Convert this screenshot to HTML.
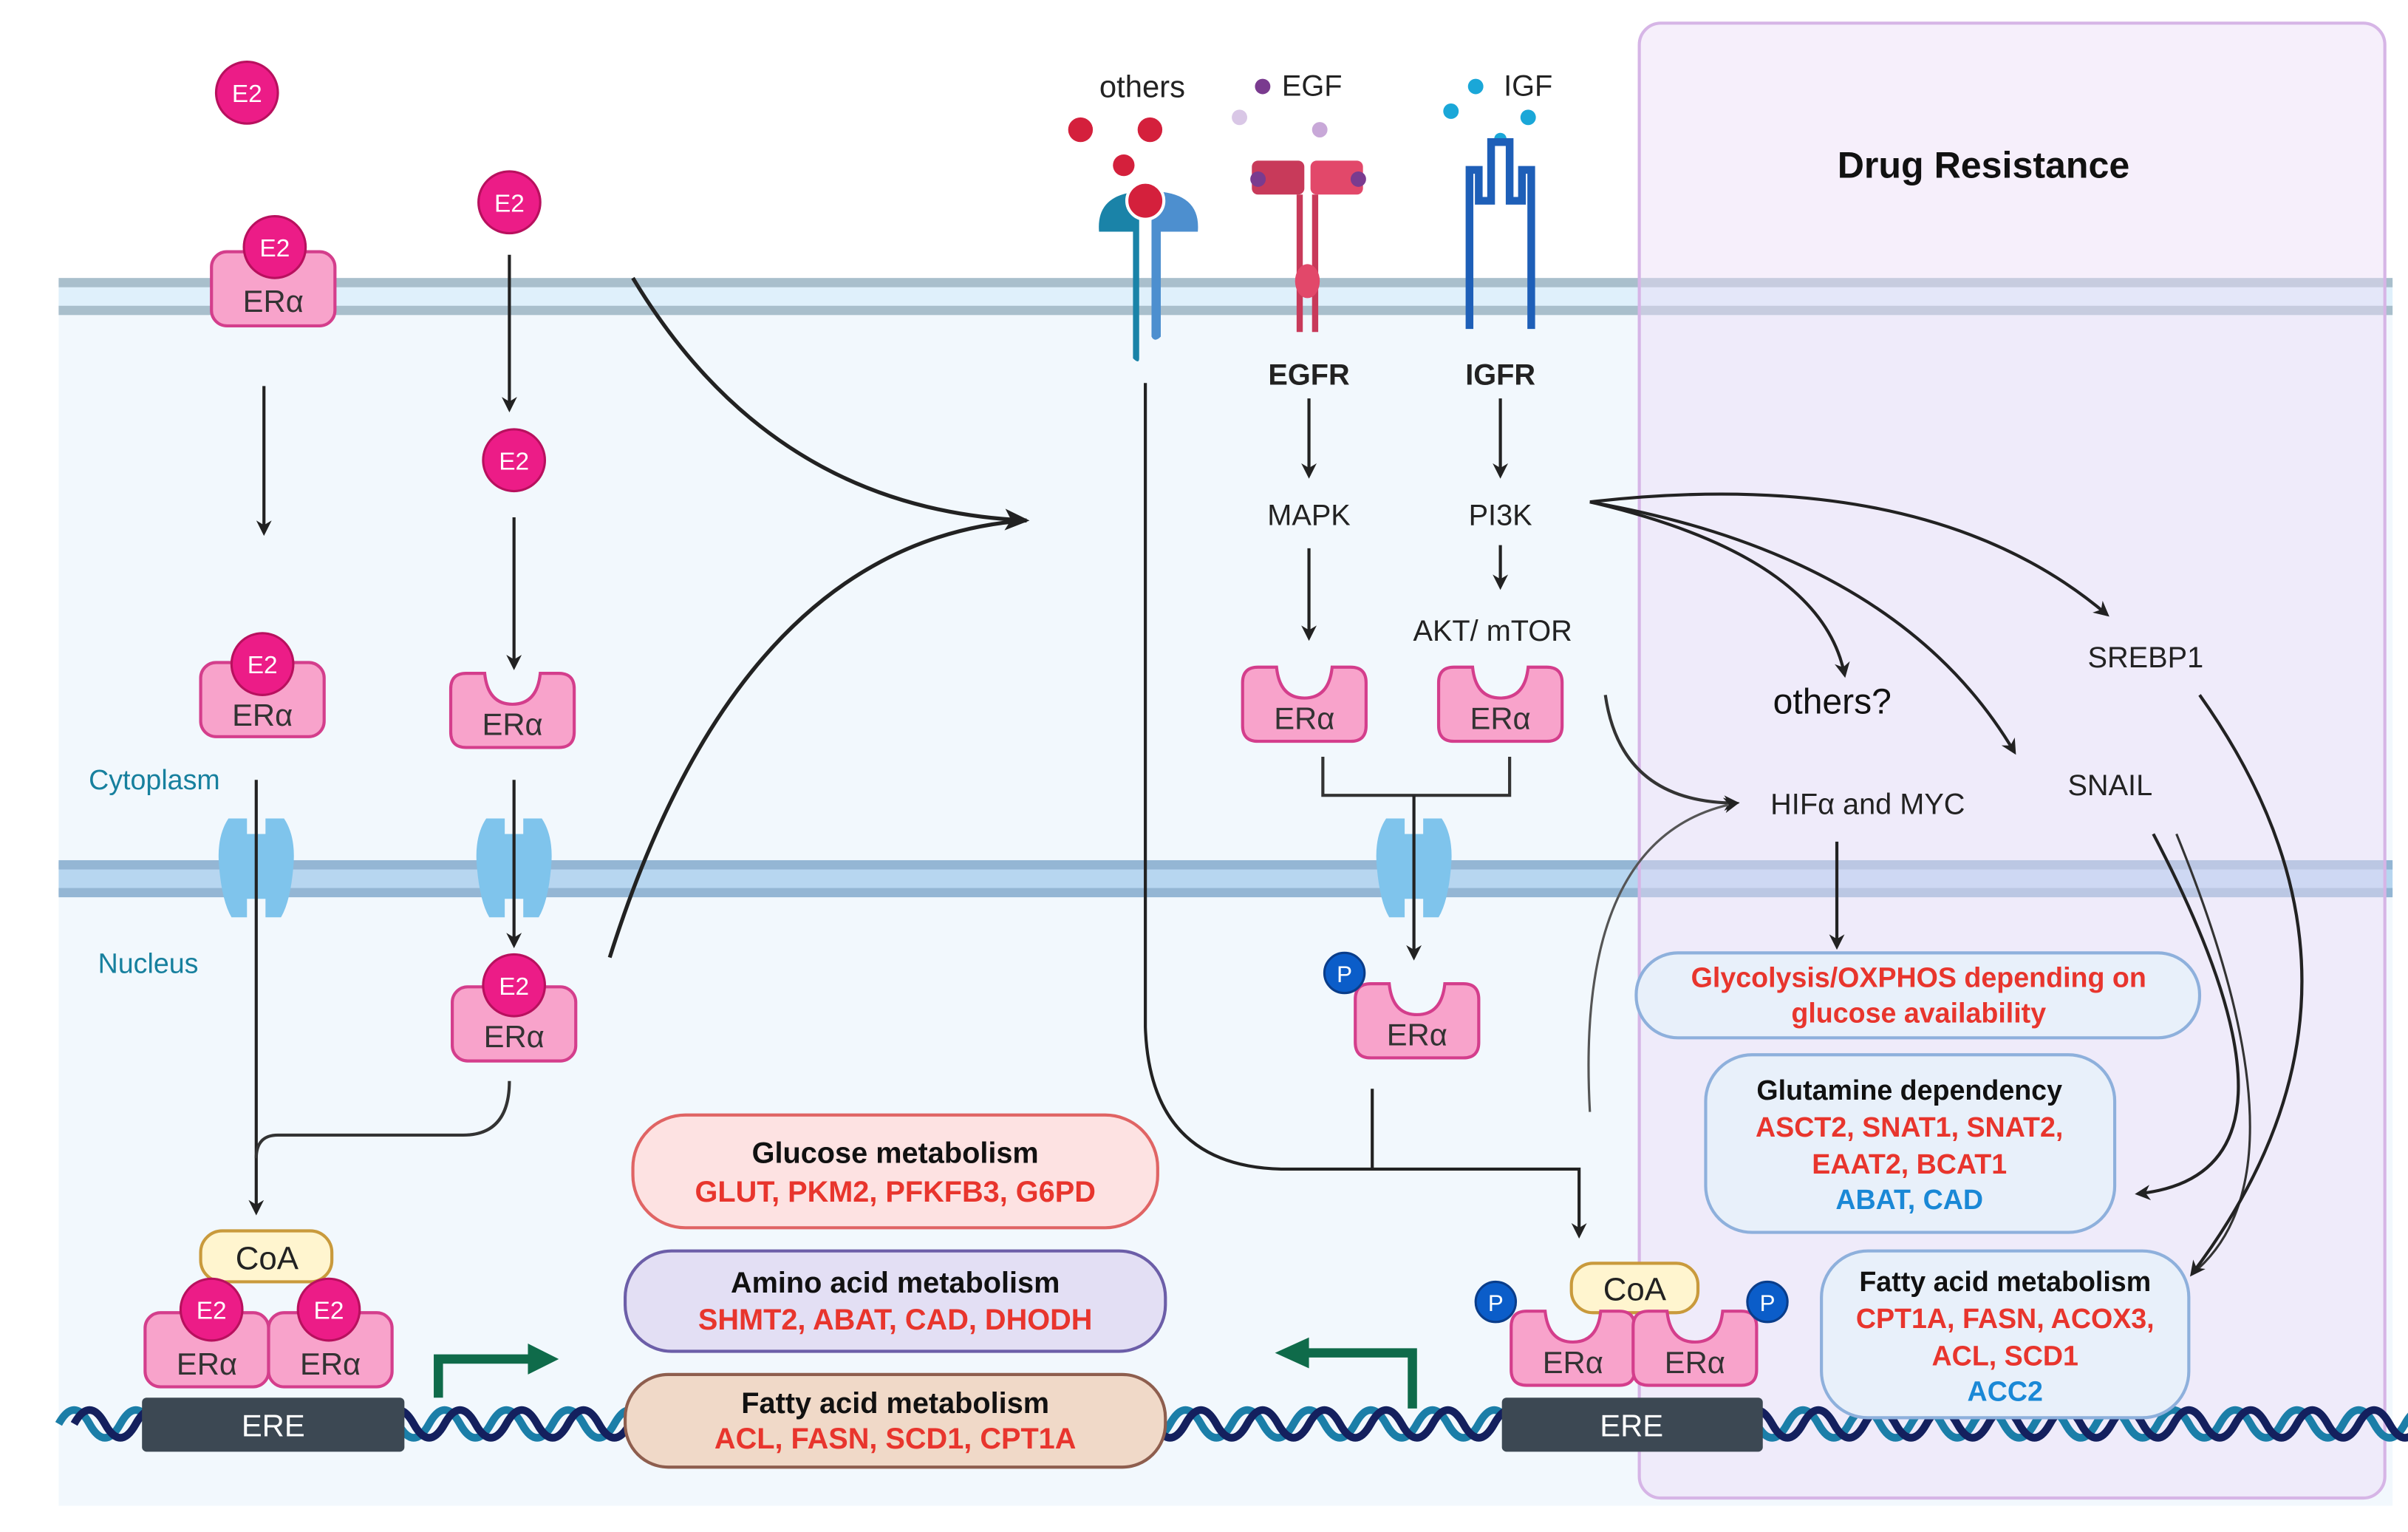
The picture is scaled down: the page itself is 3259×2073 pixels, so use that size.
<!DOCTYPE html>
<html><head><meta charset="utf-8"><style>
html,body{margin:0;padding:0;background:#fff;}
svg{display:block;}
text{font-family:"Liberation Sans",sans-serif;}
</style></head><body>
<svg width="3259" height="2073" viewBox="0 0 1560 992" preserveAspectRatio="none" xmlns="http://www.w3.org/2000/svg">
<defs>
<marker id="ah" markerWidth="10" markerHeight="10" refX="8" refY="5" orient="auto" markerUnits="userSpaceOnUse"><path d="M0,0 L10,5 L0,10 L3,5 Z" fill="#222"/></marker>
<marker id="ahL" markerWidth="16" markerHeight="14" refX="14" refY="7" orient="auto" markerUnits="userSpaceOnUse"><path d="M0,0 L16,7 L0,14 L4,7 Z" fill="#222"/></marker>
<g id="e2"><circle r="20" fill="#ec1c87" stroke="#b8105e" stroke-width="1.5"/><text y="6" text-anchor="middle" font-size="16" fill="#fff">E2</text></g>
<g id="eraF"><rect x="-40" y="-24" width="80" height="48" rx="10" fill="#f8a3cb" stroke="#d43e8c" stroke-width="2"/></g>
<g id="eraN"><path d="M-40,-14 Q-40,-24 -30,-24 L-18,-24 Q-16,-4 0,-4 Q16,-4 18,-24 L30,-24 Q40,-24 40,-14 L40,14 Q40,24 30,24 L-30,24 Q-40,24 -40,14 Z" fill="#f8a3cb" stroke="#d43e8c" stroke-width="2"/></g>
<g id="pore"><path d="M-18,-32 Q-26,-20 -24,0 Q-22,22 -16,32 L-6,32 L-6,20 L6,20 L6,32 L16,32 Q22,22 24,0 Q26,-20 18,-32 L6,-32 L6,-22 L-6,-22 L-6,-32 Z" fill="#7fc4ec"/></g>
<g id="pc"><circle r="13" fill="#0b5dc9" stroke="#0a3d8a" stroke-width="1.5"/><text y="6" text-anchor="middle" font-size="15" fill="#fff">P</text></g>
</defs>

<!-- cell background -->
<rect x="38" y="190" width="1512" height="785" fill="#f2f8fd"/>
<!-- plasma membrane -->
<rect x="38" y="181" width="1512" height="22" fill="#dff0fb"/>
<rect x="38" y="180" width="1512" height="6" fill="#a9bfcc"/>
<rect x="38" y="198" width="1512" height="6" fill="#a9bfcc"/>
<!-- nuclear membrane -->
<rect x="38" y="558" width="1512" height="22" fill="#b7d6f0"/>
<rect x="38" y="557" width="1512" height="6" fill="#94b6d4"/>
<rect x="38" y="575" width="1512" height="6" fill="#94b6d4"/>

<!-- drug resistance panel -->
<rect x="1062" y="15" width="483" height="955" rx="14" fill="#ecdcf7" fill-opacity="0.45" stroke="#d6b5e6" stroke-width="2"/>
<text x="1285" y="115" text-anchor="middle" font-size="24" font-weight="bold" fill="#111">Drug Resistance</text>

<!-- DNA -->
<path d="M38,922 q10,-18 20,0 t20,0 t20,0 t20,0 t20,0 t20,0 t20,0 t20,0 t20,0 t20,0 t20,0 t20,0 t20,0 t20,0 t20,0 t20,0 t20,0 t20,0 t20,0 t20,0 t20,0 t20,0 t20,0 t20,0 t20,0 t20,0 t20,0 t20,0 t20,0 t20,0 t20,0 t20,0 t20,0 t20,0 t20,0 t20,0 t20,0 t20,0 t20,0 t20,0 t20,0 t20,0 t20,0 t20,0 t20,0 t20,0 t20,0 t20,0 t20,0 t20,0 t20,0 t20,0 t20,0 t20,0 t20,0 t20,0 t20,0 t20,0 t20,0 t20,0 t20,0 t20,0 t20,0 t20,0 t20,0 t20,0 t20,0 t20,0 t20,0 t20,0 t20,0 t20,0 t20,0 t20,0 t20,0 t20,0 t20,0 t20,0" fill="none" stroke="#1b7ea8" stroke-width="5"/>
<path d="M48,922 q10,-18 20,0 t20,0 t20,0 t20,0 t20,0 t20,0 t20,0 t20,0 t20,0 t20,0 t20,0 t20,0 t20,0 t20,0 t20,0 t20,0 t20,0 t20,0 t20,0 t20,0 t20,0 t20,0 t20,0 t20,0 t20,0 t20,0 t20,0 t20,0 t20,0 t20,0 t20,0 t20,0 t20,0 t20,0 t20,0 t20,0 t20,0 t20,0 t20,0 t20,0 t20,0 t20,0 t20,0 t20,0 t20,0 t20,0 t20,0 t20,0 t20,0 t20,0 t20,0 t20,0 t20,0 t20,0 t20,0 t20,0 t20,0 t20,0 t20,0 t20,0 t20,0 t20,0 t20,0 t20,0 t20,0 t20,0 t20,0 t20,0 t20,0 t20,0 t20,0 t20,0 t20,0 t20,0 t20,0 t20,0" fill="none" stroke="#14205e" stroke-width="5"/>

<!-- labels cytoplasm/nucleus -->
<text x="100" y="511" text-anchor="middle" font-size="18" fill="#17809e">Cytoplasm</text>
<text x="96" y="630" text-anchor="middle" font-size="18" fill="#17809e">Nucleus</text>

<!-- pores -->
<use href="#pore" x="166" y="562"/>
<use href="#pore" x="333" y="562"/>
<use href="#pore" x="916" y="562"/>

<!-- left column -->
<use href="#e2" x="160" y="60"/>
<use href="#eraF" x="177" y="187"/>
<use href="#e2" x="178" y="160"/>
<text x="177" y="202" text-anchor="middle" font-size="20" fill="#333">ERα</text>
<line x1="171" y1="250" x2="171" y2="345" stroke="#222" stroke-width="2" marker-end="url(#ah)"/>
<use href="#eraF" x="170" y="453"/>
<use href="#e2" x="170" y="430"/>
<text x="170" y="470" text-anchor="middle" font-size="20" fill="#333">ERα</text>
<path d="M166,505 L166,785" stroke="#222" stroke-width="2" fill="none" marker-end="url(#ah)"/>
<path d="M330,700 Q330,735 300,735 L180,735 Q166,735 166,750" stroke="#333" stroke-width="2" fill="none"/>

<!-- column 2 -->
<use href="#e2" x="330" y="131"/>
<line x1="330" y1="165" x2="330" y2="265" stroke="#222" stroke-width="2" marker-end="url(#ah)"/>
<use href="#e2" x="333" y="298"/>
<line x1="333" y1="335" x2="333" y2="432" stroke="#222" stroke-width="2" marker-end="url(#ah)"/>
<use href="#eraN" x="332" y="460"/>
<text x="332" y="476" text-anchor="middle" font-size="20" fill="#333">ERα</text>
<line x1="333" y1="505" x2="333" y2="612" stroke="#222" stroke-width="2" marker-end="url(#ah)"/>
<use href="#eraF" x="333" y="663"/>
<use href="#e2" x="333" y="638"/>
<text x="333" y="678" text-anchor="middle" font-size="20" fill="#333">ERα</text>

<!-- converging curves -->
<path d="M410,180 Q500,330 665,337" stroke="#222" stroke-width="2.5" fill="none" marker-end="url(#ahL)"/>
<path d="M395,620 Q480,350 665,337" stroke="#222" stroke-width="2.5" fill="none"/>

<!-- left bottom complex -->
<rect x="130" y="797" width="85" height="33" rx="14" fill="#fff5cf" stroke="#c99a3c" stroke-width="2"/>
<text x="173" y="822" text-anchor="middle" font-size="21" fill="#222">CoA</text>
<use href="#eraF" x="134" y="874"/>
<use href="#eraF" x="214" y="874"/>
<use href="#e2" x="137" y="848"/>
<use href="#e2" x="213" y="848"/>
<text x="134" y="890" text-anchor="middle" font-size="20" fill="#333">ERα</text>
<text x="214" y="890" text-anchor="middle" font-size="20" fill="#333">ERα</text>
<rect x="92" y="905" width="170" height="35" rx="3" fill="#3c4853"/>
<text x="177" y="930" text-anchor="middle" font-size="20" fill="#fff">ERE</text>
<path d="M284,905 L284,880 L345,880" stroke="#0f6b4a" stroke-width="6" fill="none"/>
<path d="M342,870 L362,880 L342,890 Z" fill="#0f6b4a"/>

<!-- center boxes -->
<rect x="410" y="722" width="340" height="73" rx="34" fill="#fde2e2" stroke="#e06464" stroke-width="2"/>
<text x="580" y="753" text-anchor="middle" font-size="19" font-weight="bold" fill="#111">Glucose metabolism</text>
<text x="580" y="778" text-anchor="middle" font-size="19" font-weight="bold" fill="#e8352d">GLUT, PKM2, PFKFB3, G6PD</text>
<rect x="405" y="810" width="350" height="65" rx="30" fill="#e3dff4" stroke="#6c5ea8" stroke-width="2"/>
<text x="580" y="837" text-anchor="middle" font-size="19" font-weight="bold" fill="#111">Amino acid metabolism</text>
<text x="580" y="861" text-anchor="middle" font-size="19" font-weight="bold" fill="#e8352d">SHMT2, ABAT, CAD, DHODH</text>
<rect x="405" y="890" width="350" height="60" rx="28" fill="#f0d9c8" stroke="#8e5e4e" stroke-width="2"/>
<text x="580" y="915" text-anchor="middle" font-size="19" font-weight="bold" fill="#111">Fatty acid metabolism</text>
<text x="580" y="938" text-anchor="middle" font-size="19" font-weight="bold" fill="#e8352d">ACL, FASN, SCD1, CPT1A</text>
<path d="M915,912 L915,876 L845,876" stroke="#0f6b4a" stroke-width="6" fill="none"/>
<path d="M848,866 L826,876 L848,886 Z" fill="#0f6b4a"/>

<!-- receptors -->
<text x="740" y="63" text-anchor="middle" font-size="20" fill="#222">others</text>
<circle cx="700" cy="84" r="8" fill="#d4203c"/><circle cx="745" cy="84" r="8" fill="#d4203c"/><circle cx="728" cy="107" r="7" fill="#d4203c"/>
<path d="M712,150 Q710,126 738,124 L738,232 Q738,236 734,232 L734,150 Q724,150 712,150 Z" fill="#1a83a8"/>
<path d="M776,150 Q778,126 750,124 L746,124 L746,218 Q748,222 752,218 L752,150 Q764,150 776,150 Z" fill="#4d8fcf"/>
<circle cx="742" cy="130" r="12" fill="#d4203c" stroke="#fff" stroke-width="2"/>

<circle cx="818" cy="56" r="5" fill="#7a3b8f"/><text x="850" y="62" text-anchor="middle" font-size="19" fill="#222">EGF</text>
<circle cx="803" cy="76" r="5" fill="#d9c7e6"/><circle cx="855" cy="84" r="5" fill="#c8a8d8"/>
<rect x="811" y="104" width="34" height="22" rx="4" fill="#c83a5a"/><rect x="849" y="104" width="34" height="22" rx="4" fill="#e2486a"/>
<circle cx="815" cy="116" r="5" fill="#7a3b8f"/><circle cx="880" cy="116" r="5" fill="#7a3b8f"/>
<path d="M842,126 L842,215 M852,126 L852,215" stroke="#c83a5a" stroke-width="4"/>
<ellipse cx="847" cy="182" rx="8" ry="11" fill="#e2486a"/>
<text x="848" y="249" text-anchor="middle" font-size="19" font-weight="bold" fill="#222">EGFR</text>

<circle cx="956" cy="56" r="5" fill="#1aa7d8"/><text x="990" y="62" text-anchor="middle" font-size="19" fill="#222">IGF</text>
<circle cx="940" cy="72" r="5" fill="#1aa7d8"/><circle cx="990" cy="76" r="5" fill="#1aa7d8"/><circle cx="972" cy="90" r="4" fill="#1aa7d8"/>
<path d="M952,213 L952,110 L958,110 L958,130 L966,130 L966,92 L978,92 L978,130 L986,130 L986,110 L992,110 L992,213" fill="none" stroke="#1e5fb8" stroke-width="5"/>
<text x="972" y="249" text-anchor="middle" font-size="19" font-weight="bold" fill="#222">IGFR</text>

<!-- MAPK / PI3K -->
<line x1="848" y1="258" x2="848" y2="308" stroke="#222" stroke-width="2" marker-end="url(#ah)"/>
<text x="848" y="340" text-anchor="middle" font-size="19" fill="#222">MAPK</text>
<line x1="848" y1="355" x2="848" y2="413" stroke="#222" stroke-width="2" marker-end="url(#ah)"/>
<use href="#eraN" x="845" y="456"/>
<text x="845" y="472" text-anchor="middle" font-size="20" fill="#333">ERα</text>
<line x1="972" y1="258" x2="972" y2="308" stroke="#222" stroke-width="2" marker-end="url(#ah)"/>
<text x="972" y="340" text-anchor="middle" font-size="19" fill="#222">PI3K</text>
<line x1="972" y1="353" x2="972" y2="380" stroke="#222" stroke-width="2" marker-end="url(#ah)"/>
<text x="967" y="415" text-anchor="middle" font-size="19" fill="#222">AKT/ mTOR</text>
<use href="#eraN" x="972" y="456"/>
<text x="972" y="472" text-anchor="middle" font-size="20" fill="#333">ERα</text>
<path d="M857,490 L857,515 L978,515 L978,490" stroke="#333" stroke-width="2" fill="none"/>
<line x1="916" y1="515" x2="916" y2="620" stroke="#222" stroke-width="2" marker-end="url(#ah)"/>
<use href="#eraN" x="918" y="661"/>
<text x="918" y="677" text-anchor="middle" font-size="20" fill="#333">ERα</text>
<use href="#pc" x="871" y="630"/>

<!-- others line -->
<path d="M742,248 L742,665 Q745,755 830,757 L1023,757 L1023,800" stroke="#222" stroke-width="2" fill="none" marker-end="url(#ah)"/>
<line x1="889" y1="705" x2="889" y2="757" stroke="#222" stroke-width="2"/>

<!-- right complex -->
<rect x="1018" y="818" width="82" height="32" rx="14" fill="#fff5cf" stroke="#c99a3c" stroke-width="2"/>
<text x="1059" y="842" text-anchor="middle" font-size="21" fill="#222">CoA</text>
<use href="#eraN" x="1019" y="873"/>
<use href="#eraN" x="1098" y="873"/>
<text x="1019" y="889" text-anchor="middle" font-size="20" fill="#333">ERα</text>
<text x="1098" y="889" text-anchor="middle" font-size="20" fill="#333">ERα</text>
<use href="#pc" x="969" y="843"/>
<use href="#pc" x="1145" y="843"/>
<rect x="973" y="905" width="169" height="35" rx="3" fill="#3c4853"/>
<text x="1057" y="930" text-anchor="middle" font-size="20" fill="#fff">ERE</text>

<!-- right panel arrows -->
<path d="M1030,325 Q1250,300 1365,398" stroke="#222" stroke-width="2" fill="none" marker-end="url(#ah)"/>
<path d="M1030,325 Q1230,360 1305,487" stroke="#222" stroke-width="2" fill="none" marker-end="url(#ah)"/>
<path d="M1030,325 Q1180,360 1195,437" stroke="#222" stroke-width="2" fill="none" marker-end="url(#ah)"/>
<text x="1187" y="462" text-anchor="middle" font-size="23" fill="#111">others?</text>
<text x="1390" y="432" text-anchor="middle" font-size="19" fill="#222">SREBP1</text>
<text x="1367" y="515" text-anchor="middle" font-size="19" fill="#222">SNAIL</text>
<text x="1210" y="527" text-anchor="middle" font-size="19" fill="#222">HIFα and MYC</text>
<path d="M1040,450 Q1050,520 1125,520" stroke="#333" stroke-width="2" fill="none" marker-end="url(#ah)"/>
<path d="M1030,720 Q1020,540 1125,520" stroke="#555" stroke-width="1.5" fill="none" marker-end="url(#ah)"/>
<line x1="1190" y1="545" x2="1190" y2="613" stroke="#222" stroke-width="2" marker-end="url(#ah)"/>
<path d="M1395,540 Q1510,760 1385,773" stroke="#222" stroke-width="2" fill="none" marker-end="url(#ah)"/>
<path d="M1410,540 Q1500,760 1420,825" stroke="#333" stroke-width="1.5" fill="none"/>
<path d="M1425,450 Q1560,640 1420,825" stroke="#222" stroke-width="2" fill="none" marker-end="url(#ah)"/>

<rect x="1060" y="617" width="365" height="55" rx="27" fill="#e8f0fa" stroke="#8eb0dc" stroke-width="2"/>
<text x="1243" y="639" text-anchor="middle" font-size="18" font-weight="bold" fill="#e8352d">Glycolysis/OXPHOS depending on</text>
<text x="1243" y="662" text-anchor="middle" font-size="18" font-weight="bold" fill="#e8352d">glucose availability</text>
<rect x="1105" y="683" width="265" height="115" rx="30" fill="#e8f0fa" stroke="#8eb0dc" stroke-width="2"/>
<text x="1237" y="712" text-anchor="middle" font-size="18" font-weight="bold" fill="#111">Glutamine dependency</text>
<text x="1237" y="736" text-anchor="middle" font-size="18" font-weight="bold" fill="#e8352d">ASCT2, SNAT1, SNAT2,</text>
<text x="1237" y="760" text-anchor="middle" font-size="18" font-weight="bold" fill="#e8352d">EAAT2, BCAT1</text>
<text x="1237" y="783" text-anchor="middle" font-size="18" font-weight="bold" fill="#1a88d6">ABAT, CAD</text>
<rect x="1180" y="810" width="238" height="108" rx="30" fill="#e8f0fa" stroke="#8eb0dc" stroke-width="2"/>
<text x="1299" y="836" text-anchor="middle" font-size="18" font-weight="bold" fill="#111">Fatty acid metabolism</text>
<text x="1299" y="860" text-anchor="middle" font-size="18" font-weight="bold" fill="#e8352d">CPT1A, FASN, ACOX3,</text>
<text x="1299" y="884" text-anchor="middle" font-size="18" font-weight="bold" fill="#e8352d">ACL, SCD1</text>
<text x="1299" y="907" text-anchor="middle" font-size="18" font-weight="bold" fill="#1a88d6">ACC2</text>
</svg>
</body></html>
